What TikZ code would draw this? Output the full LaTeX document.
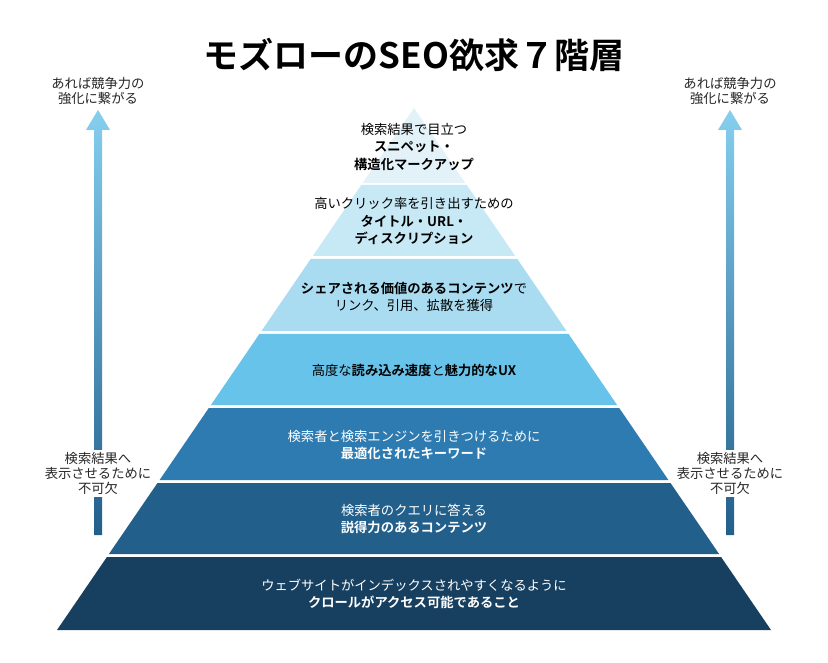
\documentclass[tikz,border=0pt]{standalone}
\usepackage{fontspec}
\setmainfont{Noto Sans CJK JP}[BoldFont={Noto Sans CJK JP Bold}]
\begin{document}
\begin{tikzpicture}[x=1pt,y=-1pt,
  lbl/.style={align=center,font=\fontsize{13.3}{17.5}\selectfont,inner sep=1pt},
  side/.style={align=center,font=\fontsize{13.3}{15}\selectfont,inner sep=1pt,text=black!85}]
\useasboundingbox (0,0) rectangle (828,663);
\definecolor{c1}{HTML}{E2F2F8}\definecolor{c2}{HTML}{C7E8F5}\definecolor{c3}{HTML}{A9DCF1}
\definecolor{c4}{HTML}{67C3EA}\definecolor{c5}{HTML}{2E7BB1}\definecolor{c6}{HTML}{225F8B}
\definecolor{c7}{HTML}{173F5F}
\node[font=\fontsize{35}{38}\selectfont\bfseries] (title) at (414,55) {モズローのSEO欲求７階層};
% layers
\fill[c1] (414,108) -- (465.3,183) -- (362.7,183) -- cycle;
\fill[c2] (361.3,185) -- (466.7,185) -- (515.2,256) -- (312.8,256) -- cycle;
\fill[c3] (310.7,259) -- (517.3,259) -- (566.5,331) -- (261.5,331) -- cycle;
\fill[c4] (259.4,334) -- (568.6,334) -- (617.1,405) -- (210.9,405) -- cycle;
\fill[c5] (208.8,408) -- (619.2,408) -- (668.4,480) -- (159.6,480) -- cycle;
\fill[c6] (157.5,483) -- (670.5,483) -- (719.1,554) -- (108.9,554) -- cycle;
\fill[c7] (106.9,557) -- (721.1,557) -- (771,630) -- (57,630) -- cycle;
\node[lbl] (l1) at (414,147) {検索結果で目立つ\\\textbf{スニペット・}\\\textbf{構造化マークアップ}};
\node[lbl] (l2) at (414,221) {高いクリック率を引き出すための\\\textbf{タイトル・URL・}\\\textbf{ディスクリプション}};
\node[lbl] (l3) at (414,297) {\textbf{シェアされる価値のあるコンテンツ}で\\リンク、引用、拡散を獲得};
\node[lbl] (l4) at (414,370) {高度な\textbf{読み込み速度}と\textbf{魅力的なUX}};
\node[lbl,text=white] (l5) at (414,445) {検索者と検索エンジンを引きつけるために\\\textbf{最適化されたキーワード}};
\node[lbl,text=white] (l6) at (414,519) {検索者のクエリに答える\\\textbf{説得力のあるコンテンツ}};
\node[lbl,text=white] (l7) at (414,594) {ウェブサイトがインデックスされやすくなるように\\\textbf{クロールがアクセス可能であること}};
% arrows
\foreach \cx/\nm in {98/L,730/R}{
  \shade[top color=c4!80!white, bottom color=c6]
    (\cx-4,535) -- (\cx-4,130) -- (\cx-12,130) -- (\cx,110) -- (\cx+12,130) -- (\cx+4,130) -- (\cx+4,535) -- cycle;
  \fill[white] (\cx-6,450) rectangle (\cx+6,497);
  \node[side] (top\nm) at (\cx,91) {あれば競争力の\\強化に繋がる};
  \node[side] (bot\nm) at (\cx,473) {検索結果へ\\表示させるために\\不可欠};
}
\end{tikzpicture}
\end{document}
